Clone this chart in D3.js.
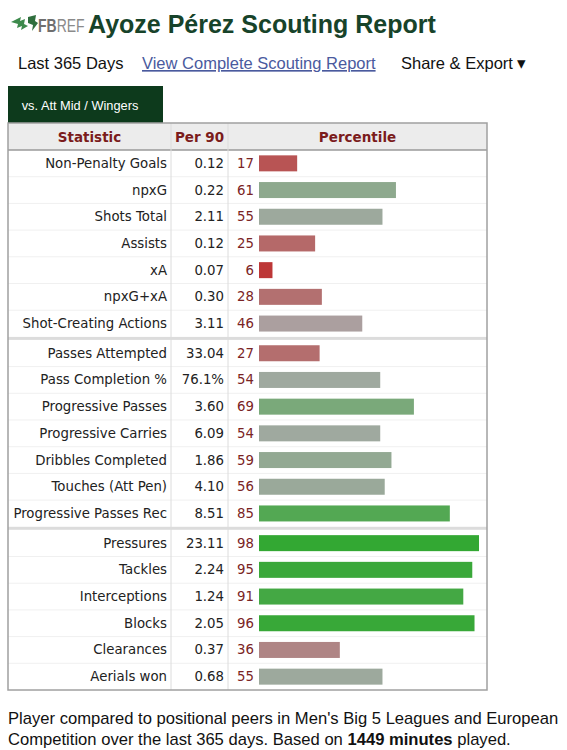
<!DOCTYPE html>
<html>
<head>
<meta charset="utf-8">
<script src="https://cdn.jsdelivr.net/npm/d3@7"></script>
<style>
  body { margin: 0; background: #fff; }
  svg { display: block; }
</style>
</head>
<body>
<div id="chart"></div>
<script>
// Data
var statNames = ["Non-Penalty Goals", "npxG", "Shots Total", "Assists", "xA", "npxG+xA", "Shot-Creating Actions",
  "Passes Attempted", "Pass Completion %", "Progressive Passes", "Progressive Carries", "Dribbles Completed", "Touches (Att Pen)", "Progressive Passes Rec",
  "Pressures", "Tackles", "Interceptions", "Blocks", "Clearances", "Aerials won"];
var per90 = ["0.12", "0.22", "2.11", "0.12", "0.07", "0.30", "3.11",
  "33.04", "76.1%", "3.60", "6.09", "1.86", "4.10", "8.51",
  "23.11", "2.24", "1.24", "2.05", "0.37", "0.68"];
var percentiles = [17, 61, 55, 25, 6, 28, 46,
  27, 54, 69, 54, 59, 56, 85,
  98, 95, 91, 96, 36, 55];
var groups = [0, 0, 0, 0, 0, 0, 0,
  1, 1, 1, 1, 1, 1, 1,
  2, 2, 2, 2, 2, 2];
var headers = ["Statistic", "Per 90", "Percentile"];

var svgWidth = 567;
var svgHeight = 750;

var table = { left: 8, right: 487, top: 123, headerH: 27 };
var rowH = 26.7;
var sep = 3;
var col1 = 171, col2 = 228;

var svg = d3.select("#chart")
  .append("svg")
  .attr("width", svgWidth)
  .attr("height", svgHeight);

var rows = statNames.map(function(name, i) {
  return { name: name, per90: per90[i], pct: percentiles[i], group: groups[i], i: i };
});

function rowY(d) {
  return table.top + table.headerH + d.i * rowH + d.group * sep;
}
var tableBottom = table.top + table.headerH + rows.length * rowH + 2 * sep;

// title + logo
var logo = svg.append("g").attr("transform", "translate(11, 15)");
logo.append("path")
  .attr("d", "M0,7 L10,2 L9,6 L14,4 L13,9 L17,11 L10,15 L11,11 L6,13 L7,9 Z")
  .attr("fill", "#3d8a4c");
logo.append("path")
  .attr("d", "M17,2 L25,0 L24,6 L27,8 L21,16 L22,10 L17,8 Z")
  .attr("fill", "#2f6e3d");
// letters stretched vertically so the word keeps its narrow width
var logoText = logo.append("text")
  .attr("transform", "translate(27, 17) scale(1, 1.35)")
  .attr("font-family", "Liberation Sans, Arial, sans-serif")
  .attr("font-size", 14);
logoText.append("tspan").attr("font-weight", "bold").attr("fill", "#6e6e6e").text("FB");
logoText.append("tspan").attr("fill", "#8a8a8a").text("REF");

svg.append("text")
  .attr("x", 88).attr("y", 33)
  .attr("font-family", "Liberation Sans, Arial, sans-serif")
  .attr("font-weight", "bold")
  .attr("font-size", 25)
  .attr("fill", "#17432a")
  .text("Ayoze Pérez Scouting Report");

// sub nav line
var navFont = "Liberation Sans, Arial, sans-serif";
svg.append("text")
  .attr("x", 18).attr("y", 69)
  .attr("font-family", navFont).attr("font-size", 16.5).attr("fill", "#111")
  .text("Last 365 Days");
svg.append("text")
  .attr("x", 142).attr("y", 69)
  .attr("font-family", navFont).attr("font-size", 16.5).attr("fill", "#4a5a9e")
  .attr("text-decoration", "underline")
  .text("View Complete Scouting Report");
svg.append("text")
  .attr("x", 401).attr("y", 69)
  .attr("font-family", navFont).attr("font-size", 16.5).attr("fill", "#111")
  .text("Share & Export \u25BE");

// tab
svg.append("rect")
  .attr("x", 8).attr("y", 86)
  .attr("width", 155).attr("height", table.top - 86)
  .attr("fill", "#0d3a1c");
svg.append("text")
  .attr("x", 80).attr("y", 110)
  .attr("text-anchor", "middle")
  .attr("font-family", navFont).attr("font-size", 12.8).attr("fill", "#fff")
  .text("vs. Att Mid / Wingers");

// table background + header
var tfont = "DejaVu Sans, Verdana, sans-serif";
svg.append("rect")
  .attr("x", table.left).attr("y", table.top)
  .attr("width", table.right - table.left).attr("height", tableBottom - table.top)
  .attr("fill", "#fff");
svg.append("rect")
  .attr("x", table.left).attr("y", table.top)
  .attr("width", table.right - table.left).attr("height", table.headerH)
  .attr("fill", "#ececec");
svg.append("line")
  .attr("x1", table.left).attr("x2", table.right)
  .attr("y1", table.top + table.headerH).attr("y2", table.top + table.headerH)
  .attr("stroke", "#9a9a9a").attr("stroke-width", 1.5);

var headerX = [(table.left + col1) / 2, (col1 + col2) / 2, (col2 + table.right) / 2];
svg.selectAll(".hdr")
  .data(headers)
  .enter()
  .append("text")
  .attr("class", "hdr")
  .attr("x", (d, i) => headerX[i])
  .attr("y", table.top + 18.5)
  .attr("text-anchor", "middle")
  .attr("font-family", tfont).attr("font-weight", "bold").attr("font-size", 13.5)
  .attr("fill", "#7b1c1c")
  .text(d => d);

// group separators
[7, 14].forEach(function(k) {
  var y = table.top + table.headerH + k * rowH + (k / 7 - 1) * sep;
  svg.append("rect")
    .attr("x", table.left).attr("y", y)
    .attr("width", table.right - table.left).attr("height", sep)
    .attr("fill", "#dcdcdc");
});

// row dividers
var rowGroup = svg.selectAll(".row")
  .data(rows)
  .enter()
  .append("g")
  .attr("class", "row")
  .attr("transform", d => `translate(0, ${rowY(d)})`);

rowGroup.filter(d => d.i !== 6 && d.i !== 13 && d.i !== rows.length - 1)
  .append("line")
  .attr("x1", table.left).attr("x2", table.right)
  .attr("y1", rowH).attr("y2", rowH)
  .attr("stroke", "#f0f0f0");

// column dividers
[col1, col2].forEach(function(x) {
  svg.append("line")
    .attr("x1", x).attr("x2", x)
    .attr("y1", table.top).attr("y2", tableBottom)
    .attr("stroke", "#dcdcdc");
});

// bars
var xScale = d3.scaleLinear()
  .domain([0, 100])
  .range([259, 483.5]);

var colorScale = d3.scaleLinear()
  .domain([0, 50, 100])
  .range(["#c02828", "#a9a9a9", "#2ea82e"]);

var barH = 16;

rowGroup.append("rect")
  .attr("x", xScale(0))
  .attr("y", (rowH - barH) / 2)
  .attr("width", d => xScale(d.pct) - xScale(0))
  .attr("height", barH)
  .attr("fill", d => colorScale(d.pct));

rowGroup.append("text")
  .attr("x", col1 - 4)
  .attr("y", rowH / 2 + 4.5)
  .attr("text-anchor", "end")
  .attr("font-family", tfont).attr("font-size", 13.3)
  .attr("fill", "#222")
  .text(d => d.name);

rowGroup.append("text")
  .attr("x", col2 - 4)
  .attr("y", rowH / 2 + 4.5)
  .attr("text-anchor", "end")
  .attr("font-family", tfont).attr("font-size", 13.3)
  .attr("fill", "#222")
  .text(d => d.per90);

rowGroup.append("text")
  .attr("x", 254)
  .attr("y", rowH / 2 + 4.5)
  .attr("text-anchor", "end")
  .attr("font-family", tfont).attr("font-size", 13.3)
  .attr("fill", "#7a2424")
  .text(d => d.pct);

// outer border
svg.append("rect")
  .attr("x", table.left).attr("y", table.top)
  .attr("width", table.right - table.left).attr("height", tableBottom - table.top)
  .attr("fill", "none")
  .attr("stroke", "#a0a0a0").attr("stroke-width", 1.5);

// footnote
var foot = svg.append("text")
  .attr("font-family", navFont).attr("font-size", 16.6).attr("fill", "#111");
foot.append("tspan").attr("x", 8).attr("y", 724)
  .text("Player compared to positional peers in Men's Big 5 Leagues and European");
var line2 = foot.append("tspan").attr("x", 8).attr("y", 745);
line2.text("Competition over the last 365 days. Based on ");
foot.append("tspan").attr("font-weight", "bold").text("1449 minutes");
foot.append("tspan").text(" played.");
</script>
</body>
</html>
